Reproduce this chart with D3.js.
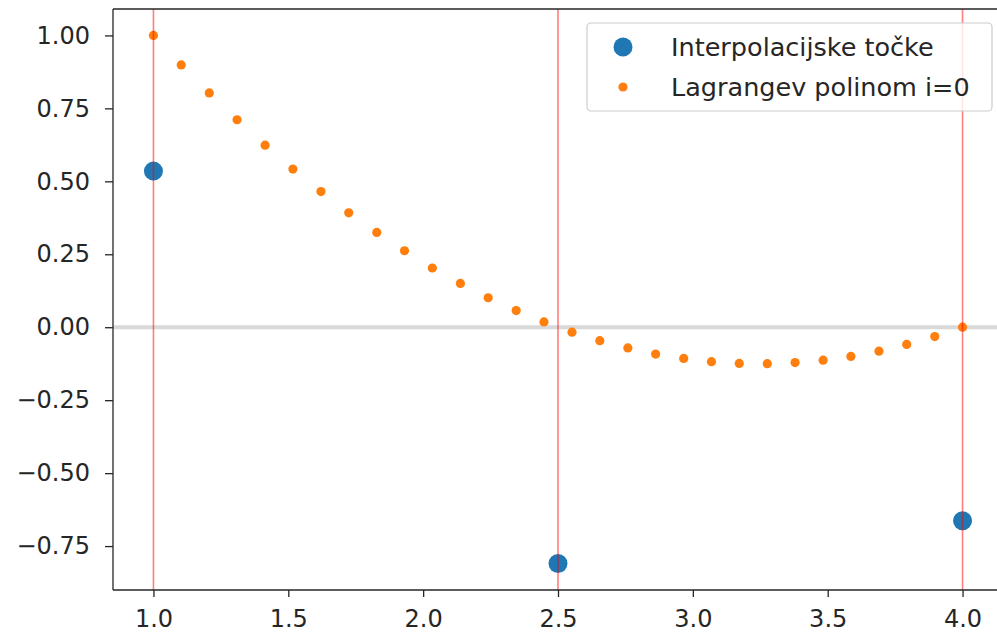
<!DOCTYPE html>
<html>
<head>
<meta charset="utf-8">
<script src="https://cdn.jsdelivr.net/npm/d3@7"></script>
<style>
  html, body { margin: 0; padding: 0; background: #ffffff; }
  svg { display: block; }
  text { font-family: "DejaVu Sans", sans-serif; fill: #262626; }
</style>
</head>
<body>
<script>
// ---- data ----
const nodeX = [1.0, 2.5, 4.0];
const nodeY = [0.535, -0.81, -0.663];
const polyX = [1.000, 1.103, 1.207, 1.310, 1.414, 1.517, 1.621, 1.724, 1.828, 1.931,
               2.034, 2.138, 2.241, 2.345, 2.448, 2.552, 2.655, 2.759, 2.862, 2.966,
               3.069, 3.172, 3.276, 3.379, 3.483, 3.586, 3.690, 3.793, 3.897, 4.000];
const polyY = [1.000, 0.899, 0.803, 0.711, 0.624, 0.542, 0.465, 0.392, 0.325, 0.262,
               0.203, 0.150, 0.101, 0.057, 0.018, -0.017, -0.046, -0.071, -0.092, -0.107,
               -0.118, -0.124, -0.125, -0.121, -0.113, -0.100, -0.082, -0.059, -0.032, 0.000];
const xTicks = [1.0, 1.5, 2.0, 2.5, 3.0, 3.5, 4.0];
const yTicks = [1.00, 0.75, 0.50, 0.25, 0.00, -0.25, -0.50, -0.75];
const legendLabels = ["Interpolacijske točke", "Lagrangev polinom i=0"];

(function () {
const W = 997, H = 635;
const pL = 113, pT = 9, pR = 1003, pB = 590;
const FS = 24, LFS = 25.5;

const svg = d3.select("body").append("svg").attr("width", W).attr("height", H);

const x = d3.scaleLinear().domain([0.85, 4.15]).range([pL, pR]);
const y = d3.scaleLinear().domain([-0.9005, 1.0905]).range([pB, pT]);

svg.append("defs").append("clipPath").attr("id", "clip")
  .append("rect").attr("x", pL).attr("y", pT).attr("width", pR - pL).attr("height", pB - pT);

const plot = svg.append("g").attr("clip-path", "url(#clip)");

// horizontal zero line
plot.append("line")
  .attr("x1", pL).attr("x2", pR)
  .attr("y1", y(0)).attr("y2", y(0))
  .attr("stroke", "#d9d9d9").attr("stroke-width", 4);

// polynomial points
plot.selectAll("circle.poly").data(polyX.map((d, i) => [d, polyY[i]]))
  .enter().append("circle").attr("class", "poly")
  .attr("cx", d => x(d[0])).attr("cy", d => y(d[1]))
  .attr("r", 4.6).attr("fill", "#ff7f0e");

// node points
plot.selectAll("circle.node").data(nodeX.map((d, i) => [d, nodeY[i]]))
  .enter().append("circle").attr("class", "node")
  .attr("cx", d => x(d[0])).attr("cy", d => y(d[1]))
  .attr("r", 9.5).attr("fill", "#1f77b4");

// vertical red lines
plot.selectAll("line.v").data(nodeX).enter().append("line").attr("class", "v")
  .attr("x1", d => x(d)).attr("x2", d => x(d))
  .attr("y1", pT).attr("y2", pB)
  .attr("stroke", "#ff0000").attr("stroke-opacity", 0.5).attr("stroke-width", 1.6);

// axes
const xAxis = d3.axisBottom(x).tickValues(xTicks).tickFormat(d3.format(".1f")).tickSize(7).tickPadding(13);
const yAxis = d3.axisLeft(y).tickValues(yTicks).tickFormat(d => d3.format(".2f")(d).replace("-", "\u2212")).tickSize(8).tickPadding(15);

const gx = svg.append("g").attr("transform", `translate(0,${pB})`).call(xAxis);
const gy = svg.append("g").attr("transform", `translate(${pL},0)`).call(yAxis);
[gx, gy].forEach(g => {
  g.select(".domain").remove();
  g.selectAll(".tick line").attr("stroke", "#262626").attr("stroke-width", 1.3);
  g.selectAll(".tick text").attr("font-size", FS).attr("font-family", "DejaVu Sans").attr("fill", "#262626");
});

// spines
const spine = (x1, y1, x2, y2) => svg.append("line").attr("x1", x1).attr("y1", y1).attr("x2", x2).attr("y2", y2)
  .attr("stroke", "#262626").attr("stroke-width", 1.3);
spine(pL, pT, pL, pB);
spine(pL, pB, pR, pB);
spine(pL, pT, pR, pT);
spine(pR, pT, pR, pB);

// legend
const lg = svg.append("g");
lg.append("rect").attr("x", 587).attr("y", 23).attr("width", 405).attr("height", 88)
  .attr("rx", 4).attr("ry", 4)
  .attr("fill", "#ffffff").attr("fill-opacity", 0.8)
  .attr("stroke", "#cccccc").attr("stroke-width", 1.2);
const legendColors = ["#1f77b4", "#ff7f0e"];
const legendR = [9.5, 4.6];
legendLabels.forEach((lab, i) => {
  const cy = 47 + i * 40;
  lg.append("circle").attr("cx", 623).attr("cy", cy).attr("r", legendR[i]).attr("fill", legendColors[i]);
  lg.append("text").attr("x", 671).attr("y", cy).attr("dy", "0.34em")
    .attr("font-size", LFS).text(lab);
});
})();
</script>
</body>
</html>
